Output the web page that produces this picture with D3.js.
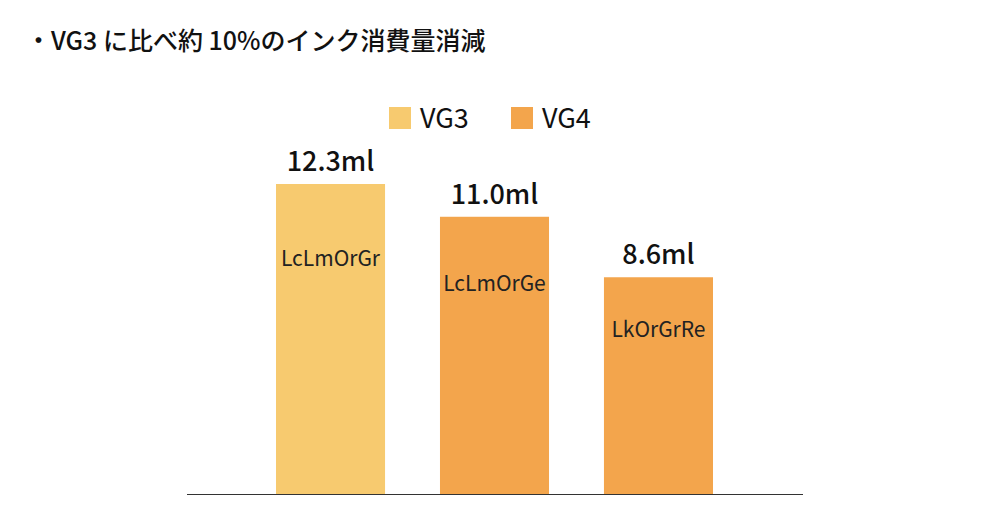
<!DOCTYPE html>
<html><head><meta charset="utf-8">
<script src="https://cdn.jsdelivr.net/npm/d3@7"></script>
<style>body{margin:0;background:#fff;font-family:"Noto Sans CJK JP","Noto Sans",sans-serif;}</style>
</head><body>
<svg id="c" width="1000" height="530"></svg>
<script>
var categories = ["LcLmOrGr", "LcLmOrGe", "LkOrGrRe"];
var values = [12.3, 11.0, 8.6];
var series = ["VG3", "VG4", "VG4"];
var legendKeys = ["VG3", "VG4"];
var colors = {VG3: "#f7ca6f", VG4: "#f3a54c"};

var svg = d3.select("#c");

svg.append("text").attr("x", 26).attr("y", 50)
    .attr("font-size", 25).attr("font-weight", 500).attr("fill", "#111")
    .text("・VG3 に比べ約 10%のインク消費量消減");

var x = d3.scaleBand().domain(categories).range([276, 713]).paddingInner(0.335).paddingOuter(0);
var y = d3.scaleLinear().domain([0, 12.3]).range([494, 184]);

svg.selectAll("rect.bar").data(values).enter().append("rect")
    .attr("x", function(d, i) { return x(categories[i]); })
    .attr("y", function(d) { return y(d); })
    .attr("width", x.bandwidth())
    .attr("height", function(d) { return y(0) - y(d); })
    .attr("fill", function(d, i) { return colors[series[i]]; });

svg.selectAll("text.val").data(values).enter().append("text")
    .attr("x", function(d, i) { return x(categories[i]) + x.bandwidth() / 2; })
    .attr("y", function(d) { return y(d) - 13; })
    .attr("text-anchor", "middle").attr("font-size", 27).attr("font-weight", 500).attr("fill", "#111")
    .text(function(d) { return d.toFixed(1) + "ml"; });

svg.selectAll("text.cat").data(values).enter().append("text")
    .attr("x", function(d, i) { return x(categories[i]) + x.bandwidth() / 2; })
    .attr("y", function(d) { return y(d) + (y(0) - y(d)) * 0.24 + 8; })
    .attr("text-anchor", "middle").attr("font-size", 21).attr("fill", "#222")
    .text(function(d, i) { return categories[i]; });

svg.append("line").attr("x1", 187).attr("x2", 803)
    .attr("y1", y(0) + 0.5).attr("y2", y(0) + 0.5).attr("stroke", "#333");

var lg = svg.selectAll("g.lg").data(legendKeys).enter().append("g")
    .attr("transform", function(d, i) { return "translate(" + (389 + i * 122) + ",107)"; });
lg.append("rect").attr("width", 22).attr("height", 22).attr("fill", function(d) { return colors[d]; });
lg.append("text").attr("x", 31).attr("y", 21).attr("font-size", 27).attr("fill", "#111").text(function(d) { return d; });
</script>
</body></html>
